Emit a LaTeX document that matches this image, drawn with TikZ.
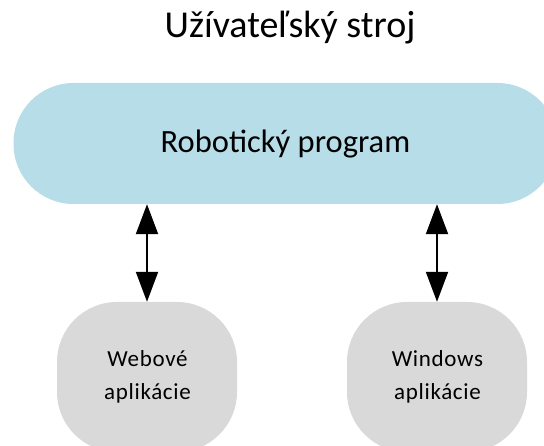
\documentclass[tikz,border=0pt]{standalone}
\usepackage{fontspec}
\setmainfont{Carlito}
\usetikzlibrary{arrows.meta}
\definecolor{progblue}{HTML}{B7DDE8}
\definecolor{appgray}{HTML}{D9D9D9}
\tikzset{
  progbox/.style={fill=progblue, draw=none, rounded corners=60pt, minimum width=544pt, minimum height=121pt, inner sep=0pt, text height=25pt, text depth=6pt, font=\fontsize{32.5}{38}\selectfont},
  appbox/.style={fill=appgray, draw=none, rounded corners=60pt, minimum width=180pt, minimum height=150pt, inner sep=0pt},
  apptext/.style={anchor=base, inner sep=0pt, font=\fontsize{23}{28}\selectfont\addfontfeatures{LetterSpace=3}},
  biarrow/.style={{Triangle[length=30pt,width=22pt]}-{Triangle[length=30pt,width=22pt]}, line width=2pt, black},
  titletext/.style={font=\fontsize{38}{44}\selectfont, anchor=base, inner sep=0pt}
}
\begin{document}
\begin{tikzpicture}[x=1pt,y=-1pt]
\useasboundingbox (0,0) rectangle (544,446);
\clip (0,0) rectangle (544,446);
\node[titletext] (title) at (290,38) {Užívateľský stroj};
\node[progbox] (prog) at (285.5,143.5) {Robotický program};
\node[appbox] (web) at (147,377) {};
\node[appbox] (win) at (437,377) {};
\node[apptext] (webA) at (147.5,367) {Webové};
\node[apptext] (webB) at (147.5,400) {aplikácie};
\node[apptext] (winA) at (437.5,367) {Windows};
\node[apptext] (winB) at (437.5,400) {aplikácie};
\draw[biarrow] (web.north |- prog.south) -- (web.north);
\draw[biarrow] (win.north |- prog.south) -- (win.north);
\end{tikzpicture}
\end{document}
